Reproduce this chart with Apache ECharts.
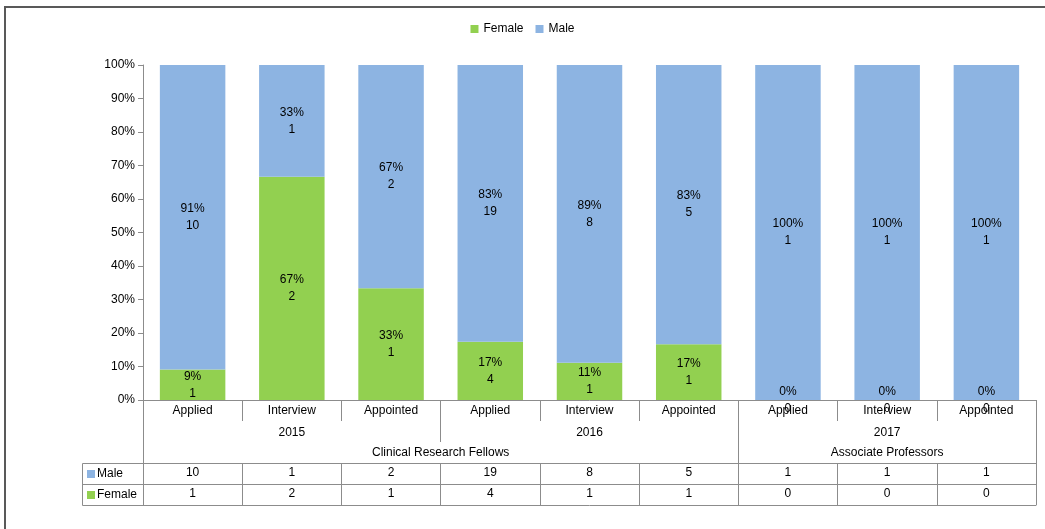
<!DOCTYPE html>
<html><head><meta charset="utf-8">
<script src="https://cdn.jsdelivr.net/npm/echarts@6/dist/echarts.min.js"></script>
<style>html,body{margin:0;padding:0;background:#fff}#c{width:1045px;height:529px}</style>
</head><body><div id="c"></div>
<script>
// ---- data ----
const stages = ['Applied','Interview','Appointed','Applied','Interview','Appointed','Applied','Interview','Appointed'];
const years = ['2015','2016','2017'];
const groups = ['Clinical Research Fellows','Associate Professors'];
const groupSpans = [6, 3];
const seriesNames = ['Female','Male'];
const male = [10, 1, 2, 19, 8, 5, 1, 1, 1];
const female = [1, 2, 1, 4, 1, 1, 0, 0, 0];

// ---- layout ----
const W = 1045, GL = 143, GR = 9;
const BAND = (W - GL - GR) / stages.length;

// ---- derived ----
const totals = male.map((m, i) => m + female[i]);
const malePct = male.map((m, i) => m / totals[i] * 100);
const femalePct = female.map((f, i) => f / totals[i] * 100);
const groupStarts = [];
let acc = 0;
groupSpans.forEach(s => { groupStarts.push(acc); acc += s; });
const groupSlots = [];
groups.forEach((g, i) => {
  const s = groupSpans[i];
  const mid = Math.floor((s - 1) / 2);
  const even = s % 2 === 0;
  for (let k = 0; k < s; k++) {
    if (k === mid) groupSlots.push({value: g, textStyle: even ? {padding: [0, 0, 0, BAND]} : {}});
    else groupSlots.push({value: ''});
  }
});

const FONT = 'Liberation Sans';
const LINE = '#8c8c8c';
const TXT = '#000';
const GREEN = '#92D050';
const BLUE = '#8DB4E2';
const lbl = (extra) => Object.assign({fontSize: 12, color: TXT, fontFamily: FONT, interval: 0}, extra);
const keyText = (name, color, y) => ({
  type: 'text', silent: true, x: 87, y: y,
  style: {
    text: '{k|}{t|' + name + '}', verticalAlign: 'middle',
    rich: {
      k: {backgroundColor: color, width: 8, height: 8},
      t: {fontSize: 12, fill: TXT, fontFamily: FONT, padding: [0, 0, 0, 2]}
    }
  }
});

const chart = echarts.init(document.getElementById('c'), null, {renderer: 'canvas'});
chart.setOption({
  animation: false,
  backgroundColor: '#fff',
  textStyle: {fontFamily: FONT},
  legend: {
    data: seriesNames, top: 18, left: 'center', icon: 'rect',
    itemWidth: 8, itemHeight: 8, itemGap: 12,
    textStyle: {fontSize: 12, color: TXT, fontFamily: FONT}
  },
  grid: {left: GL, right: GR, top: 65, bottom: 129},
  yAxis: {
    type: 'value', min: 0, max: 100, interval: 10,
    axisLine: {show: true, lineStyle: {color: LINE}},
    axisTick: {show: true, length: 5, lineStyle: {color: LINE}},
    splitLine: {show: false},
    axisLabel: {formatter: '{value}%', margin: 8, fontSize: 12, color: TXT, fontFamily: FONT}
  },
  xAxis: [
    { // stage labels
      type: 'category', data: stages, position: 'bottom', offset: 0,
      axisLine: {show: true, onZero: false, lineStyle: {color: LINE}},
      axisTick: {show: true, length: 21, lineStyle: {color: LINE}},
      axisLabel: lbl({margin: 5})
    },
    { // years
      type: 'category', data: years, position: 'bottom', offset: 42,
      axisLine: {show: false, onZero: false},
      axisTick: {show: true, inside: true, length: 42, lineStyle: {color: LINE}},
      axisLabel: lbl({inside: true, margin: 3})
    },
    { // group separators + labels
      type: 'category', data: groupSlots, position: 'bottom', offset: 63,
      axisLine: {show: false, onZero: false},
      axisTick: {show: true, inside: true, length: 63, lineStyle: {color: LINE},
        interval: (idx) => groupStarts.indexOf(idx) >= 0},
      axisLabel: lbl({inside: true, margin: 4})
    },
    { // table: male row
      type: 'category', data: male.map(String), position: 'bottom', offset: 63,
      axisLine: {show: true, onZero: false, lineStyle: {color: LINE}},
      axisTick: {show: true, length: 21, lineStyle: {color: LINE}},
      axisLabel: lbl({margin: 4})
    },
    { // table: female row
      type: 'category', data: female.map(String), position: 'bottom', offset: 84,
      axisLine: {show: true, onZero: false, lineStyle: {color: LINE}},
      axisTick: {show: true, length: 21, lineStyle: {color: LINE}},
      axisLabel: lbl({margin: 4})
    },
    { // table bottom line
      type: 'category', data: stages, position: 'bottom', offset: 105,
      axisLine: {show: true, onZero: false, lineStyle: {color: LINE}},
      axisTick: {show: false}, axisLabel: {show: false}
    }
  ],
  series: [
    {
      name: seriesNames[0], type: 'bar', stack: 'total', xAxisIndex: 0, yAxisIndex: 0,
      data: femalePct, barCategoryGap: '34%',
      itemStyle: {color: GREEN},
      label: {show: true, position: 'inside', color: TXT, fontSize: 12, lineHeight: 17, fontFamily: FONT,
        formatter: p => Math.round(p.value) + '%\n' + female[p.dataIndex]}
    },
    {
      name: seriesNames[1], type: 'bar', stack: 'total', xAxisIndex: 0, yAxisIndex: 0,
      data: malePct, barCategoryGap: '34%',
      itemStyle: {color: BLUE},
      label: {show: true, position: 'inside', color: TXT, fontSize: 12, lineHeight: 17, fontFamily: FONT,
        formatter: p => Math.round(p.value) + '%\n' + male[p.dataIndex]}
    }
  ],
  graphic: [
    {type: 'rect', silent: true, shape: {x: 5, y: 7, width: 1200, height: 700},
      style: {fill: 'none', stroke: '#595959', lineWidth: 2}},
    {type: 'polyline', silent: true,
      shape: {points: [[143.5, 463.5], [82.5, 463.5], [82.5, 505.5], [143.5, 505.5]]},
      style: {fill: 'none', stroke: LINE, lineWidth: 1}},
    {type: 'line', silent: true, shape: {x1: 82.5, y1: 484.5, x2: 143.5, y2: 484.5},
      style: {stroke: LINE, lineWidth: 1}},
    keyText(seriesNames[1], BLUE, 474),
    keyText(seriesNames[0], GREEN, 495)
  ]
});
</script>
</body></html>
